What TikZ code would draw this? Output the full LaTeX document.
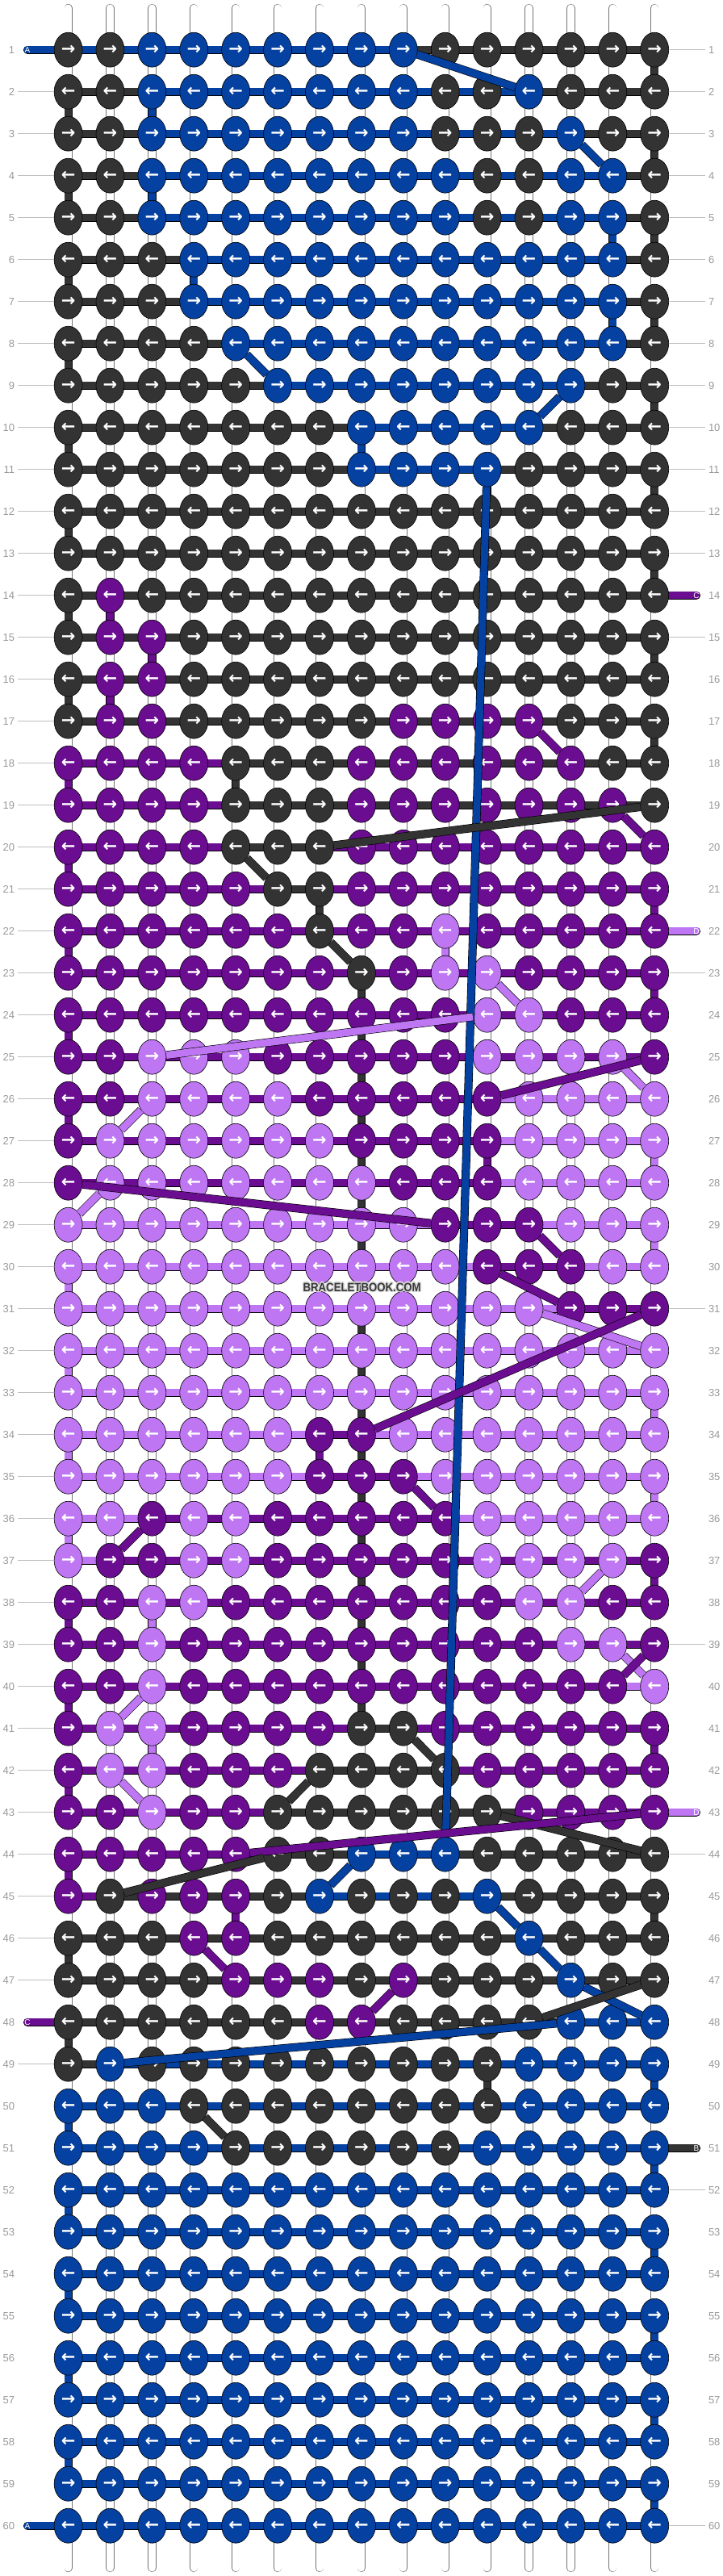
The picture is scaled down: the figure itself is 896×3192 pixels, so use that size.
\documentclass[tikz,border=0pt]{standalone}
\usepackage{fontspec}
\setmainfont{Liberation Sans}
\newfontfamily\arrowfont{DejaVu Sans}
\usetikzlibrary{positioning}
\usetikzlibrary{shapes.geometric}
\definecolor{kD}{HTML}{333333}
\definecolor{kB}{HTML}{0541A0}
\definecolor{kP}{HTML}{6A0D91}
\definecolor{kL}{HTML}{BE76F2}
\pgfdeclarelayer{warp}
\pgfdeclarelayer{bg}
\pgfsetlayers{warp,bg,main}
\tikzset{
    knot/.style={
        ellipse,
        draw=black,
        line width=0.6pt,
        fill=#1,
        minimum width=35pt,
        minimum height=43pt,
        inner sep=0pt,
        text=white,
        font=\arrowfont\bfseries\fontsize{21}{21}\selectfont},
    thread/.style={
        draw=black,
        line width=0.6pt,
        double=#1,
        double distance=9pt},
    warp/.style={
        draw=black!55,
        line width=0.6pt,
        double=white,
        double distance=9pt,
        line cap=round},
    rowlabel/.style={
        text=black!40,
        inner sep=0pt,
        outer sep=4pt,
        font=\fontsize{13}{13}\selectfont},
    labelline/.style={
        draw=black!25,
        line width=1pt},
    threadtag/.style={
        text=white,
        inner sep=0pt,
        font=\fontsize{10}{10}\selectfont},
    marktext/.style={
        inner sep=0pt,
        font=\bfseries\fontsize{15}{15}\selectfont}}

\begin{document}
\begin{tikzpicture}[x=1pt,y=-1pt]
    \useasboundingbox (0,0) rectangle (896,3192);

    % knots and the rows of thread between them
    \foreach \rw/\knots/\bars in {
        1/{D,D,B,B,B,B,B,B,B,D,D,D,D,D,D}/{B,B,B,B,B,B,B,B,D,D,D,D,D,D},
        2/{D,D,B,B,B,B,B,B,B,D,D,B,D,D,D}/{D,D,B,B,B,B,B,B,B,B,B,D,D,D},
        3/{D,D,B,B,B,B,B,B,B,D,D,D,B,D,D}/{D,D,B,B,B,B,B,B,B,B,B,B,D,D},
        4/{D,D,B,B,B,B,B,B,B,B,D,D,B,B,D}/{D,D,B,B,B,B,B,B,B,B,B,B,B,D},
        5/{D,D,B,B,B,B,B,B,B,B,D,D,B,B,D}/{D,D,B,B,B,B,B,B,B,B,B,B,B,D},
        6/{D,D,D,B,B,B,B,B,B,B,B,B,B,B,D}/{D,D,D,B,B,B,B,B,B,B,B,B,B,D},
        7/{D,D,D,B,B,B,B,B,B,B,B,B,B,B,D}/{D,D,D,B,B,B,B,B,B,B,B,B,B,D},
        8/{D,D,D,D,B,B,B,B,B,B,B,B,B,B,D}/{D,D,D,D,B,B,B,B,B,B,B,B,B,D},
        9/{D,D,D,D,D,B,B,B,B,B,B,B,B,D,D}/{D,D,D,D,D,B,B,B,B,B,B,B,D,D},
        10/{D,D,D,D,D,D,D,B,B,B,B,B,D,D,D}/{D,D,D,D,D,D,D,B,B,B,B,D,D,D},
        11/{D,D,D,D,D,D,D,B,B,B,B,D,D,D,D}/{D,D,D,D,D,D,D,B,B,B,D,D,D,D},
        12/{D,D,D,D,D,D,D,D,D,D,D,D,D,D,D}/{D,D,D,D,D,D,D,D,D,D,D,D,D,D},
        13/{D,D,D,D,D,D,D,D,D,D,D,D,D,D,D}/{D,D,D,D,D,D,D,D,D,D,D,D,D,D},
        14/{D,P,D,D,D,D,D,D,D,D,D,D,D,D,D}/{D,D,D,D,D,D,D,D,D,D,D,D,D,D},
        15/{D,P,P,D,D,D,D,D,D,D,D,D,D,D,D}/{D,D,D,D,D,D,D,D,D,D,D,D,D,D},
        16/{D,P,P,D,D,D,D,D,D,D,D,D,D,D,D}/{D,D,D,D,D,D,D,D,D,D,D,D,D,D},
        17/{D,P,P,D,D,D,D,D,P,P,P,P,D,D,D}/{D,D,D,D,D,D,D,D,D,D,D,D,D,D},
        18/{P,P,P,P,D,D,D,P,P,P,P,P,P,D,D}/{P,P,P,P,D,D,D,D,D,D,D,D,D,D},
        19/{P,P,P,P,D,D,D,P,P,P,P,P,P,P,D}/{P,P,P,P,D,D,D,D,D,D,D,D,D,D},
        20/{P,P,P,P,D,D,D,P,P,P,P,P,P,P,P}/{P,P,P,P,D,D,P,P,P,P,P,P,P,P},
        21/{P,P,P,P,P,D,D,P,P,P,P,P,P,P,P}/{P,P,P,P,P,D,P,P,P,P,P,P,P,P},
        22/{P,P,P,P,P,P,D,P,P,L,P,P,P,P,P}/{P,P,P,P,P,P,P,P,P,P,P,P,P,P},
        23/{P,P,P,P,P,P,P,D,P,L,L,P,P,P,P}/{P,P,P,P,P,P,P,P,P,P,P,P,P,P},
        24/{P,P,P,P,P,P,P,P,P,P,L,L,P,P,P}/{P,P,P,P,P,P,P,P,P,P,P,P,P,P},
        25/{P,P,L,L,L,P,P,P,P,P,L,L,L,L,P}/{P,P,P,P,P,P,P,P,P,P,P,P,P,P},
        26/{P,P,L,L,L,L,P,P,P,P,P,L,L,L,L}/{P,P,P,P,P,P,P,P,P,P,L,L,L,L},
        27/{P,L,L,L,L,L,L,P,P,P,P,L,L,L,L}/{P,P,P,P,P,P,P,P,P,P,L,L,L,L},
        28/{P,L,L,L,L,L,L,L,P,P,P,L,L,L,L}/{P,P,P,P,P,P,P,P,P,P,L,L,L,L},
        29/{L,L,L,L,L,L,L,L,L,P,P,P,L,L,L}/{L,L,L,L,L,L,L,L,L,P,P,L,L,L},
        30/{L,L,L,L,L,L,L,L,L,L,P,P,P,L,L}/{L,L,L,L,L,L,L,L,L,L,P,P,L,L},
        31/{L,L,L,L,L,L,L,L,L,L,L,L,P,P,P}/{L,L,L,L,L,L,L,L,L,L,L,L,P,P},
        32/{L,L,L,L,L,L,L,L,L,L,L,L,L,L,L}/{L,L,L,L,L,L,L,L,L,L,L,L,L,L},
        33/{L,L,L,L,L,L,L,L,L,L,L,L,L,L,L}/{L,L,L,L,L,L,L,L,L,L,L,L,L,L},
        34/{L,L,L,L,L,L,P,P,L,L,L,L,L,L,L}/{L,L,L,L,L,L,P,L,L,L,L,L,L,L},
        35/{L,L,L,L,L,L,P,P,P,L,L,L,L,L,L}/{L,L,L,L,L,L,P,P,L,L,L,L,L,L},
        36/{L,L,P,L,L,P,P,P,P,P,L,L,L,L,L}/{L,L,P,P,P,P,P,P,P,L,L,L,L,L},
        37/{L,P,P,L,L,P,P,P,P,P,L,L,L,L,P}/{L,P,P,P,P,P,P,P,P,P,P,P,P,P},
        38/{P,P,L,L,P,P,P,P,P,P,P,L,L,P,P}/{P,P,P,P,P,P,P,P,P,P,P,P,P,P},
        39/{P,P,L,P,P,P,P,P,P,P,P,P,L,L,P}/{P,P,P,P,P,P,P,P,P,P,P,P,P,P},
        40/{P,P,L,P,P,P,P,P,P,P,P,P,P,P,L}/{P,P,P,P,P,P,P,P,P,P,P,P,P,L},
        41/{P,L,L,P,P,P,P,D,D,P,P,P,P,P,P}/{P,P,P,P,P,P,P,D,P,P,P,P,P,P},
        42/{P,L,L,P,P,P,D,D,D,D,P,P,P,P,P}/{P,P,P,P,P,P,D,D,D,P,P,P,P,P},
        43/{P,P,L,P,P,D,D,D,D,D,D,P,P,P,P}/{P,P,P,P,P,D,D,D,D,D,D,P,P,P},
        44/{P,P,P,P,P,D,D,B,B,B,D,D,D,D,D}/{P,P,P,P,P,D,D,B,B,D,D,D,D,D},
        45/{P,D,P,P,P,D,B,D,D,D,B,D,D,D,D}/{P,D,D,D,D,D,B,B,B,B,D,D,D,D},
        46/{D,D,D,P,P,D,D,D,D,D,D,B,D,D,D}/{D,D,D,D,D,D,D,D,D,D,D,D,D,D},
        47/{D,D,D,D,P,P,P,D,P,D,D,D,B,D,D}/{D,D,D,D,D,D,D,D,D,D,D,D,D,D},
        48/{D,D,D,D,D,D,P,P,D,D,D,D,B,B,B}/{D,D,D,D,D,D,D,D,D,D,D,D,B,B},
        49/{D,B,D,D,D,D,D,D,D,D,D,B,B,B,B}/{D,B,B,B,B,B,B,B,B,B,B,B,B,B},
        50/{B,B,B,D,D,D,D,D,D,D,D,B,B,B,B}/{B,B,B,B,B,B,B,B,B,B,B,B,B,B},
        51/{B,B,B,B,D,D,D,D,D,D,B,B,B,B,B}/{B,B,B,B,B,B,B,B,B,B,B,B,B,B},
        52/{B,B,B,B,B,B,B,B,B,B,B,B,B,B,B}/{B,B,B,B,B,B,B,B,B,B,B,B,B,B},
        53/{B,B,B,B,B,B,B,B,B,B,B,B,B,B,B}/{B,B,B,B,B,B,B,B,B,B,B,B,B,B},
        54/{B,B,B,B,B,B,B,B,B,B,B,B,B,B,B}/{B,B,B,B,B,B,B,B,B,B,B,B,B,B},
        55/{B,B,B,B,B,B,B,B,B,B,B,B,B,B,B}/{B,B,B,B,B,B,B,B,B,B,B,B,B,B},
        56/{B,B,B,B,B,B,B,B,B,B,B,B,B,B,B}/{B,B,B,B,B,B,B,B,B,B,B,B,B,B},
        57/{B,B,B,B,B,B,B,B,B,B,B,B,B,B,B}/{B,B,B,B,B,B,B,B,B,B,B,B,B,B},
        58/{B,B,B,B,B,B,B,B,B,B,B,B,B,B,B}/{B,B,B,B,B,B,B,B,B,B,B,B,B,B},
        59/{B,B,B,B,B,B,B,B,B,B,B,B,B,B,B}/{B,B,B,B,B,B,B,B,B,B,B,B,B,B},
        60/{B,B,B,B,B,B,B,B,B,B,B,B,B,B,B}/{B,B,B,B,B,B,B,B,B,B,B,B,B,B}} {
        \foreach \k [count=\cl] in \knots
            \node[knot=k\k] (k-\rw-\cl) at ({84.6+51.9*(\cl-1)},{61.7+52*(\rw-1)})
                {\ifodd\rw\relax →\else ←\fi};
        \begin{pgfonlayer}{bg}
            \foreach \b [count=\g] in \bars {
                \pgfmathtruncatemacro\h{\g+1}
                \draw[thread=k\b] (k-\rw-\g.center) -- (k-\rw-\h.center);
            }
        \end{pgfonlayer}
    }

    % white strands
    \foreach \cl in {1,...,15} {
        \coordinate (top-\cl) at ({84.6+51.9*(\cl-1)},10);
        \coordinate (bot-\cl) at ({84.6+51.9*(\cl-1)},3182);
        \begin{pgfonlayer}{warp}
            \draw[warp] (top-\cl) -- (bot-\cl);
        \end{pgfonlayer}
    }

    % threads going down
    \begin{pgfonlayer}{bg}
        \foreach \cc/\cl/\rw in {
            D/15/1,D/15/3,D/15/5,D/15/7,D/15/9,D/15/11,D/15/13,D/15/15,D/15/17,
            P/15/21,P/15/23,L/15/27,L/15/29,L/15/33,L/15/35,P/15/37,P/15/41,
            D/15/45,B/15/49,B/15/51,B/15/53,B/15/55,B/15/57,B/15/59,
            D/1/2,D/1/4,D/1/6,D/1/8,D/1/10,D/1/12,D/1/14,D/1/16,
            P/1/18,P/1/20,P/1/22,P/1/24,P/1/26,L/1/30,L/1/32,L/1/34,L/1/36,
            P/1/38,P/1/40,P/1/42,P/1/44,D/1/46,D/1/48,
            B/1/50,B/1/52,B/1/54,B/1/56,B/1/58,
            B/3/2,B/3/4,B/14/5,B/4/6,B/14/7,B/8/10,B/11/11,
            P/2/14,P/3/15,P/2/16,D/5/18,D/7/21,L/10/22,P/11/27,
            P/7/34,L/3/38,L/3/41,B/10/43,P/5/45,D/11/49} {
            \pgfmathtruncatemacro\rn{\rw+1}
            \draw[thread=k\cc] (k-\rw-\cl.center) -- (k-\rn-\cl.center);
        }
        \foreach \rw in {23,...,40} {
            \pgfmathtruncatemacro\rn{\rw+1}
            \draw[thread=kD] (k-\rw-8.center) -- (k-\rn-8.center);
        }
    \end{pgfonlayer}

    % threads jumping across
    \foreach \cc/\ra/\ca/\rb/\cb in {
        B/1/9/2/12,B/3/13/4/14,B/8/5/9/6,B/9/13/10/12,B/11/11/44/10,
        P/17/12/18/13,D/19/15/20/7,P/19/14/20/15,D/20/5/21/6,D/22/7/23/8,
        L/23/11/24/12,L/24/11/25/3,L/25/14/26/15,P/25/15/26/11,L/26/3/27/2,
        L/28/2/29/1,P/28/1/29/10,P/29/12/30/13,P/30/11/31/13,L/31/12/32/15,
        P/31/15/34/8,P/35/9/36/10,P/36/3/37/2,L/37/14/38/13,L/39/14/40/15,
        P/39/15/40/14,L/40/3/41/2,D/41/9/42/10,L/42/2/43/3,D/42/7/43/6,
        D/43/11/44/15,P/43/15/44/5,D/44/6/45/2,B/44/8/45/7,B/45/11/46/12,
        P/46/4/47/5,B/46/12/47/13,B/47/13/48/15,D/47/15/48/12,P/47/9/48/8,
        B/48/13/49/2,D/50/4/51/5}
        \draw[thread=k\cc] (k-\ra-\ca) -- (k-\rb-\cb);

    % row numbers
    \foreach \rw in {1,...,60} {
        \node[rowlabel,anchor=east] (ll-\rw) at (22,{61.7+52*(\rw-1)}) {\rw};
        \node[rowlabel,anchor=west] (rl-\rw) at (874,{61.7+52*(\rw-1)}) {\rw};
    }
    \foreach \rw in {2,...,47,49,...,59}
        \draw[labelline] (ll-\rw) -- (k-\rw-1);
    \foreach \rw in {1,...,13,15,...,21,23,...,42,44,...,50,52,...,60}
        \draw[labelline] (k-\rw-15) -- (rl-\rw);

    % thread ends
    \coordinate (tagA-1) at (34,61.7);
    \coordinate (tagC-14) at (863,{61.7+52*13});
    \coordinate (tagD-22) at (863,{61.7+52*21});
    \coordinate (tagD-43) at (863,{61.7+52*42});
    \coordinate (tagC-48) at (34,{61.7+52*47});
    \coordinate (tagB-51) at (863,{61.7+52*50});
    \coordinate (tagA-60) at (34,{61.7+52*59});
    \begin{pgfonlayer}{bg}
        \draw[thread=kB,line cap=round] (tagA-1) -- (k-1-1.center);
        \draw[thread=kP,line cap=round] (tagC-14) -- (k-14-15.center);
        \draw[thread=kL,line cap=round] (tagD-22) -- (k-22-15.center);
        \draw[thread=kL,line cap=round] (tagD-43) -- (k-43-15.center);
        \draw[thread=kP,line cap=round] (tagC-48) -- (k-48-1.center);
        \draw[thread=kD,line cap=round] (tagB-51) -- (k-51-15.center);
        \draw[thread=kB,line cap=round] (tagA-60) -- (k-60-1.center);
    \end{pgfonlayer}
    \node[threadtag] at (tagA-1) {A};
    \node[threadtag] at (tagC-14) {C};
    \node[threadtag] at (tagD-22) {D};
    \node[threadtag] at (tagD-43) {D};
    \node[threadtag] at (tagC-48) {C};
    \node[threadtag] at (tagB-51) {B};
    \node[threadtag] at (tagA-60) {A};

    % site mark, with a light halo
    \coordinate (mark) at (448.6,1595);
    \foreach \dx/\dy in {-1.5/0,1.5/0,0/-1.5,0/1.5,-1/-1,1/1,-1/1,1/-1}
        \node[marktext,text=white!85!black] at ([shift={(\dx,\dy)}]mark)
            {\scalebox{0.88}[1]{BRACELETBOOK.COM}};
    \node[marktext,text=black!78] at (mark) {\scalebox{0.88}[1]{BRACELETBOOK.COM}};
\end{tikzpicture}
\end{document}
